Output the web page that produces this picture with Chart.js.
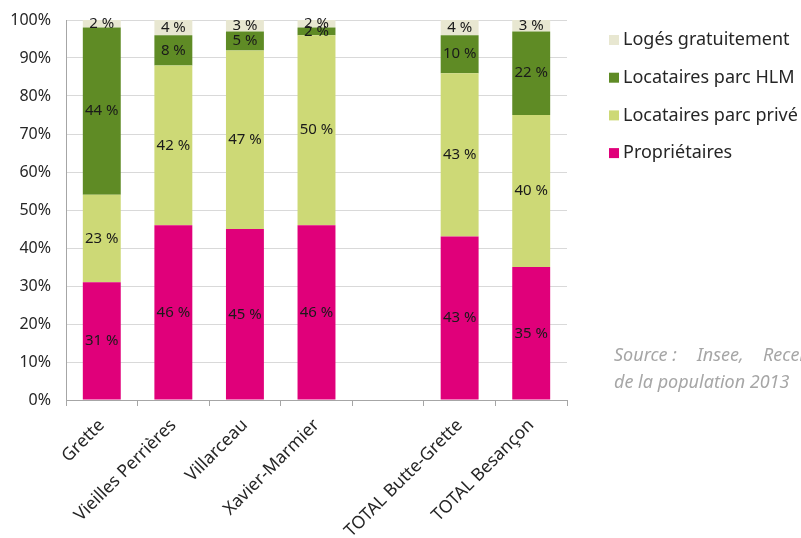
<!DOCTYPE html>
<html>
<head>
<meta charset="utf-8">
<script src="https://cdn.jsdelivr.net/npm/chart.js@4.4.0/dist/chart.umd.min.js"></script>
<style>
  body { margin: 0; background: #fff; }
  #wrap { width: 801px; height: 538px; }
</style>
</head>
<body>
<div id="wrap"><canvas id="occupation" width="801" height="538"></canvas></div>
<script>
// categories (the empty one is the gap before the totals)
const quartiers = ['Grette', 'Vieilles Perrières', 'Villarceau', 'Xavier-Marmier', '', 'TOTAL Butte-Grette', 'TOTAL Besançon'];

// shares in %
const proprietaires = [31, 46, 45, 46, null, 43, 35];
const locPrive      = [23, 42, 47, 50, null, 43, 40];
const locHLM        = [44, 8, 5, 2, null, 10, 22];
const logesGratuit  = [2, 4, 3, 2, null, 4, 3];

const yTicks = [0, 10, 20, 30, 40, 50, 60, 70, 80, 90, 100];

const FONT = '"Noto Sans", "Liberation Sans", sans-serif';

const valueLabels = {
  id: 'valueLabels',
  afterDatasetsDraw(chart) {
    const ctx = chart.ctx;
    ctx.save();
    ctx.font = '15px ' + FONT;
    ctx.fillStyle = '#1a1a1a';
    ctx.textAlign = 'center';
    ctx.textBaseline = 'middle';
    chart.data.datasets.forEach((ds, i) => {
      chart.getDatasetMeta(i).data.forEach((bar, j) => {
        const v = ds.data[j];
        if (v == null) return;
        ctx.fillText(v + ' %', bar.x, (bar.y + bar.base) / 2);
      });
    });
    ctx.restore();
  }
};

const sideLegend = {
  id: 'sideLegend',
  afterDraw(chart) {
    const ctx = chart.ctx;
    ctx.save();
    ctx.font = '18px ' + FONT;
    ctx.textBaseline = 'middle';
    const items = chart.data.datasets.slice().reverse();
    items.forEach((ds, i) => {
      const y = 40 + i * 37.7;
      ctx.fillStyle = ds.backgroundColor;
      ctx.fillRect(609, y - 5, 10, 10);
      ctx.fillStyle = '#262626';
      ctx.fillText(ds.label, 623, y);
    });
    // source note
    ctx.font = 'italic 18px ' + FONT;
    ctx.fillStyle = '#a6a6a6';
    ctx.fillText('Source :', 614, 356);
    ctx.fillText('Insee,', 697, 356);
    ctx.fillText('Recensement', 763, 356);
    ctx.fillText('de la population 2013', 614, 383);
    ctx.restore();
  }
};

new Chart(document.getElementById('occupation'), {
  type: 'bar',
  data: {
    labels: quartiers,
    datasets: [
      { label: 'Propriétaires', data: proprietaires, backgroundColor: '#E0007A' },
      { label: 'Locataires parc privé', data: locPrive, backgroundColor: '#CDD976' },
      { label: 'Locataires parc HLM', data: locHLM, backgroundColor: '#5F8B25' },
      { label: 'Logés gratuitement', data: logesGratuit, backgroundColor: '#E8E7D1' }
    ]
  },
  options: {
    responsive: false,
    animation: false,
    categoryPercentage: 1,
    barPercentage: 0.53,
    layout: { padding: { top: 20, right: 234, left: 0, bottom: 0 } },
    plugins: {
      legend: { display: false },
      tooltip: { enabled: false }
    },
    scales: {
      x: {
        stacked: true,
        grid: { drawOnChartArea: false, offset: true, color: '#a6a6a6', tickLength: 6 },
        border: { color: '#a6a6a6' },
        ticks: {
          autoSkip: false, minRotation: 45, maxRotation: 45, padding: 9,
          color: '#262626', font: { family: FONT, size: 17.5 }
        },
        afterFit(s) { s.height = 138; }
      },
      y: {
        stacked: true,
        min: 0,
        max: 100,
        afterBuildTicks(s) { s.ticks = yTicks.map(v => ({ value: v })); },
        grid: { color: '#d9d9d9', drawTicks: false },
        border: { color: '#a6a6a6' },
        ticks: {
          padding: 15,
          color: '#262626', font: { family: FONT, size: 16, lineHeight: 1 },
          callback: v => v + '%'
        },
        afterFit(s) { s.width = 66; s.paddingTop = 0; s.paddingBottom = 0; }
      }
    }
  },
  plugins: [valueLabels, sideLegend]
});
</script>
</body>
</html>
